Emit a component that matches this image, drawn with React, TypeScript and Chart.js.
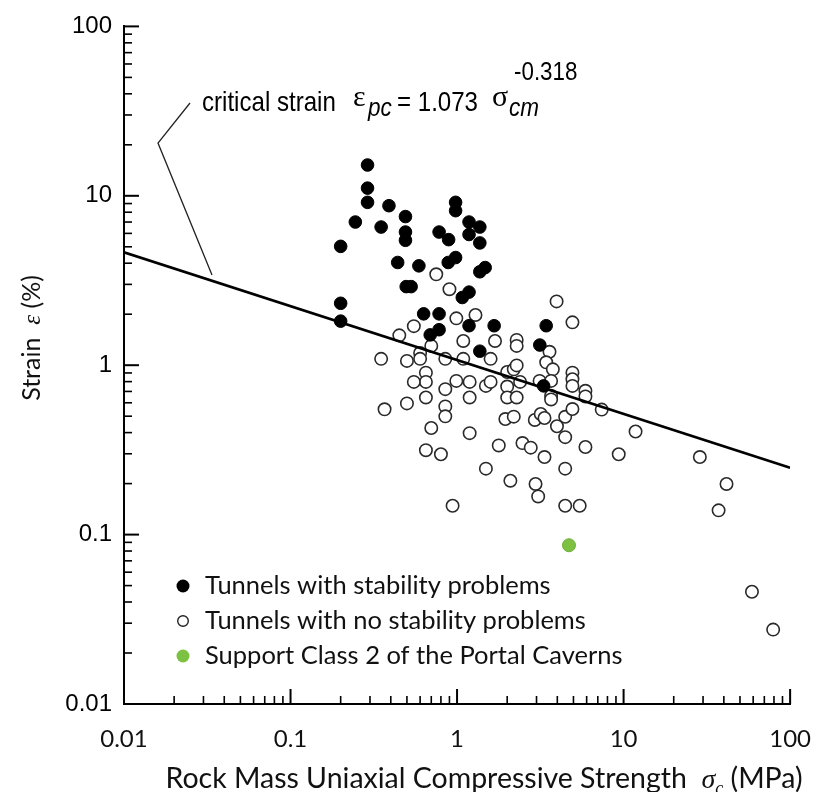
import React, { useEffect, useRef } from 'react';
import { Chart, registerables } from 'chart.js';

Chart.register(...registerables);

// ---- data ----
const problemSigma = [0.29, 0.29, 0.29, 0.245, 0.2, 0.2, 0.2, 0.39, 0.35, 0.49, 0.49, 0.49, 0.44, 0.59, 0.495, 0.53, 0.98, 0.98, 0.78, 0.89, 1.18, 1.18, 1.37, 1.37, 0.98, 0.885, 1.475, 1.37, 1.18, 1.075, 0.63, 0.78, 0.78, 0.69, 1.18, 1.67, 1.37, 3.43, 3.14, 3.31];
const problemStrain = [15.2, 11.1, 9.15, 7.0, 5.03, 2.32, 1.82, 8.74, 6.54, 7.54, 6.11, 5.46, 4.04, 3.86, 2.91, 2.91, 9.15, 8.17, 6.11, 5.51, 7.0, 5.91, 6.54, 5.27, 4.32, 4.04, 3.77, 3.56, 2.7, 2.51, 2.01, 2.01, 1.62, 1.51, 1.71, 1.71, 1.21, 1.71, 1.315, 0.755];

const stableSigma = [0.75, 0.9, 0.99, 1.29, 0.55, 0.45, 0.7, 0.6, 0.6, 0.35, 0.5, 1.09, 1.69, 2.28, 2.28, 3.59, 3.96, 4.93, 0.85, 1.09, 1.59, 3.43, 3.76, 0.65, 0.65, 0.55, 0.99, 1.19, 1.49, 1.59, 2.0, 2.19, 2.28, 2.39, 2.0, 2.0, 2.28, 3.13, 3.67, 3.67, 3.67, 4.93, 4.93, 4.93, 5.9, 5.9, 7.39, 0.367, 0.5, 0.65, 0.85, 0.85, 0.85, 1.19, 1.95, 2.19, 2.93, 3.18, 3.35, 4.46, 4.93, 3.98, 4.46, 0.7, 1.19, 1.78, 2.47, 2.77, 3.35, 5.9, 0.65, 0.8, 1.49, 2.09, 2.96, 3.07, 4.46, 4.46, 5.45, 0.94, 11.8, 9.35, 28.7, 41.5, 37.2, 59.0, 79.1];
const stableStrain = [3.44, 2.81, 1.89, 1.98, 1.7, 1.5, 1.3, 1.18, 1.09, 1.09, 1.06, 1.39, 1.39, 1.41, 1.3, 1.2, 2.38, 1.79, 1.09, 1.09, 1.09, 1.04, 0.945, 0.904, 0.797, 0.797, 0.808, 0.797, 0.755, 0.797, 0.912, 0.945, 0.997, 0.797, 0.748, 0.645, 0.645, 0.808, 0.808, 0.66, 0.628, 0.904, 0.826, 0.755, 0.706, 0.654, 0.547, 0.549, 0.595, 0.645, 0.722, 0.571, 0.499, 0.645, 0.481, 0.497, 0.475, 0.515, 0.488, 0.496, 0.551, 0.436, 0.376, 0.426, 0.397, 0.336, 0.347, 0.326, 0.287, 0.329, 0.315, 0.298, 0.245, 0.208, 0.199, 0.168, 0.245, 0.148, 0.148, 0.148, 0.406, 0.298, 0.287, 0.199, 0.139, 0.046, 0.0275];

const portalSigma = [4.7];
const portalStrain = [0.0865];

const criticalSigma = [0.01, 100];
const criticalStrain = [4.64, 0.248];

const majorTicks = [0.01, 0.1, 1, 10, 100];
const tickLabels = ['0.01', '0.1', '1', '10', '100'];

const legendLabels = [
  'Tunnels with stability problems',
  'Tunnels with no stability problems',
  'Support Class 2 of the Portal Caverns',
];

const allTicks: number[] = [];
majorTicks.forEach((t, i) => {
  allTicks.push(t);
  if (i < majorTicks.length - 1) {
    for (let m = 2; m <= 9; m++) allTicks.push(Number((t * m).toPrecision(3)));
  }
});

const isMajor = (v: number) => majorTicks.some((t) => Math.abs(t - v) / t < 1e-6);
const labelFor = (v: number) => {
  const i = majorTicks.findIndex((t) => Math.abs(t - v) / t < 1e-6);
  return i >= 0 ? tickLabels[i] : '';
};

const pts = (xs: number[], ys: number[]) => xs.map((x, i) => ({ x, y: ys[i] }));

const SANS = '"Liberation Sans", Arial, sans-serif';
const SERIF = '"Liberation Serif", "DejaVu Serif", serif';
const LATO = 'Lato, "Open Sans", sans-serif';

// text drawn with a horizontal squeeze (narrow Helvetica look)
const narrowText = (ctx: CanvasRenderingContext2D, text: string, font: string, x: number, y: number, sx: number) => {
  ctx.save();
  ctx.font = font;
  ctx.translate(x, y);
  ctx.scale(sx, 1);
  ctx.fillText(text, 0, 0);
  ctx.restore();
};

type Run = { text: string; font: string; dx?: number; dy?: number; w?: number };
const drawRuns = (ctx: CanvasRenderingContext2D, runs: Run[], x: number, y: number, align: 'left' | 'center') => {
  let total = 0;
  runs.forEach((r) => {
    ctx.font = r.font;
    r.w = ctx.measureText(r.text).width;
    total += r.w + (r.dx || 0);
  });
  let cx = align === 'center' ? x - total / 2 : x;
  ctx.textAlign = 'left';
  runs.forEach((r) => {
    ctx.font = r.font;
    cx += r.dx || 0;
    ctx.fillText(r.text, cx, y + (r.dy || 0));
    cx += r.w || 0;
  });
};

const tickPlugin = {
  id: 'inwardTicks',
  afterDatasetsDraw(chart: any) {
    const ctx: CanvasRenderingContext2D = chart.ctx;
    const xs = chart.scales.x;
    const ys = chart.scales.y;
    const area = chart.chartArea;
    ctx.save();
    ctx.fillStyle = '#000';
    for (const v of allTicks) {
      const major = isMajor(v);
      const len = major ? 15 : 8;
      const w = major ? 2 : 1.6;
      const px = xs.getPixelForValue(v);
      ctx.fillRect(px - w / 2, area.bottom - len, w, len);
      const py = ys.getPixelForValue(v);
      ctx.fillRect(area.left, py - w / 2, len, w);
    }
    ctx.restore();
  },
};

const decor = {
  id: 'decor',
  afterDraw(chart: any) {
    const ctx: CanvasRenderingContext2D = chart.ctx;
    ctx.save();
    ctx.fillStyle = '#000';
    ctx.textAlign = 'left';
    ctx.textBaseline = 'alphabetic';

    // annotation: critical strain  ε_pc = 1.073 σ_cm^-0.318
    narrowText(ctx, 'critical strain', `28px ${SANS}`, 202, 111, 0.86);
    ctx.font = `30px ${SERIF}`;
    ctx.fillText('\u03b5', 353, 106);
    narrowText(ctx, 'pc', `italic 25px ${SANS}`, 368, 116, 0.9);
    narrowText(ctx, '= 1.073', `28px ${SANS}`, 397, 111, 0.86);
    ctx.font = `30px ${SERIF}`;
    ctx.fillText('\u03c3', 492, 106);
    narrowText(ctx, 'cm', `italic 25px ${SANS}`, 509, 116, 0.9);
    narrowText(ctx, '-0.318', `26px ${SANS}`, 514, 80, 0.86);

    // leader line
    ctx.strokeStyle = '#222';
    ctx.lineWidth = 1.3;
    ctx.beginPath();
    ctx.moveTo(190, 103);
    ctx.lineTo(158, 143);
    ctx.lineTo(212, 275);
    ctx.stroke();

    // legend
    const ly = [586, 621, 656];
    ctx.beginPath();
    ctx.arc(183, ly[0], 6.5, 0, Math.PI * 2);
    ctx.fillStyle = '#000';
    ctx.fill();
    ctx.beginPath();
    ctx.arc(183, ly[1], 5.3, 0, Math.PI * 2);
    ctx.fillStyle = '#fff';
    ctx.fill();
    ctx.lineWidth = 1.4;
    ctx.strokeStyle = '#222';
    ctx.stroke();
    ctx.beginPath();
    ctx.arc(183, ly[2], 6.5, 0, Math.PI * 2);
    ctx.fillStyle = '#7cc142';
    ctx.fill();
    ctx.fillStyle = '#111';
    ctx.font = `25.5px ${LATO}`;
    ctx.textBaseline = 'middle';
    legendLabels.forEach((t, i) => ctx.fillText(t, 205, ly[i]));

    // axis titles
    ctx.textBaseline = 'alphabetic';
    ctx.fillStyle = '#111';
    drawRuns(
      ctx,
      [
        { text: 'Rock Mass Uniaxial Compressive Strength  ', font: `28.5px ${LATO}` },
        { text: '\u03c3', font: `italic 28px ${SERIF}` },
        { text: 'c', font: `italic 18px ${SERIF}`, dy: 6 },
        { text: ' (MPa)', font: `28.5px ${LATO}` },
      ],
      484,
      788,
      'center'
    );
    ctx.save();
    ctx.translate(40, 338);
    ctx.rotate(-Math.PI / 2);
    drawRuns(
      ctx,
      [
        { text: 'Strain  ', font: `25px ${LATO}` },
        { text: '\u03b5', font: `italic 25px ${SERIF}` },
        { text: ' (%)', font: `25px ${LATO}` },
      ],
      0,
      0,
      'center'
    );
    ctx.restore();
    ctx.restore();
  },
};

export default function App() {
  const ref = useRef<HTMLCanvasElement | null>(null);
  useEffect(() => {
    if (!ref.current) return;
    const chart = new Chart(ref.current, {
      type: 'scatter',
      data: {
        datasets: [
          {
            label: 'critical strain',
            data: pts(criticalSigma, criticalStrain),
            showLine: true,
            borderColor: '#000',
            borderWidth: 2.6,
            pointRadius: 0,
            order: 0,
          },
          {
            label: legendLabels[0],
            data: pts(problemSigma, problemStrain),
            backgroundColor: '#000',
            borderColor: '#000',
            borderWidth: 1,
            pointRadius: 6.3,
            order: 1,
          },
          {
            label: legendLabels[1],
            data: pts(stableSigma, stableStrain),
            backgroundColor: '#fff',
            borderColor: '#2a2a2a',
            borderWidth: 1.6,
            pointRadius: 6.2,
            order: 2,
          },
          {
            label: legendLabels[2],
            data: pts(portalSigma, portalStrain),
            backgroundColor: '#7cc142',
            borderColor: '#6cae3a',
            borderWidth: 1,
            pointRadius: 6.5,
            order: 3,
          },
        ],
      },
      options: {
        animation: false,
        responsive: false,
        layout: { padding: { left: 0, top: 21, right: 28, bottom: 0 } },
        plugins: { legend: { display: false }, tooltip: { enabled: false } },
        scales: {
          x: {
            type: 'logarithmic',
            position: 'bottom',
            min: 0.01,
            max: 100,
            grid: { display: false, drawTicks: false },
            border: { display: true, color: '#000', width: 2 },
            afterBuildTicks: (s: any) => {
              s.ticks = allTicks.map((v) => ({ value: v }));
            },
            afterFit: (s: any) => {
              s.height = 88;
            },
            ticks: {
              autoSkip: false,
              maxRotation: 0,
              minRotation: 0,
              padding: 21,
              color: '#111',
              font: { family: LATO, size: 24 },
              callback: (v: any) => labelFor(Number(v)),
            },
          },
          y: {
            type: 'logarithmic',
            position: 'left',
            min: 0.01,
            max: 100,
            grid: { display: false, drawTicks: false },
            border: { display: true, color: '#000', width: 2 },
            afterBuildTicks: (s: any) => {
              s.ticks = allTicks.map((v) => ({ value: v }));
            },
            afterFit: (s: any) => {
              s.width = 124;
            },
            ticks: {
              autoSkip: false,
              padding: 12,
              color: '#000',
              font: { family: SANS, size: 24 },
              callback: (v: any) => labelFor(Number(v)),
            },
          },
        },
      },
      plugins: [tickPlugin, decor],
    } as any);
    return () => chart.destroy();
  }, []);
  return (
    <div style={{ position: 'fixed', left: 0, top: 0, width: 832, height: 792, background: '#fff' }}>
      <canvas ref={ref} width={832} height={792} style={{ display: 'block' }} />
    </div>
  );
}
